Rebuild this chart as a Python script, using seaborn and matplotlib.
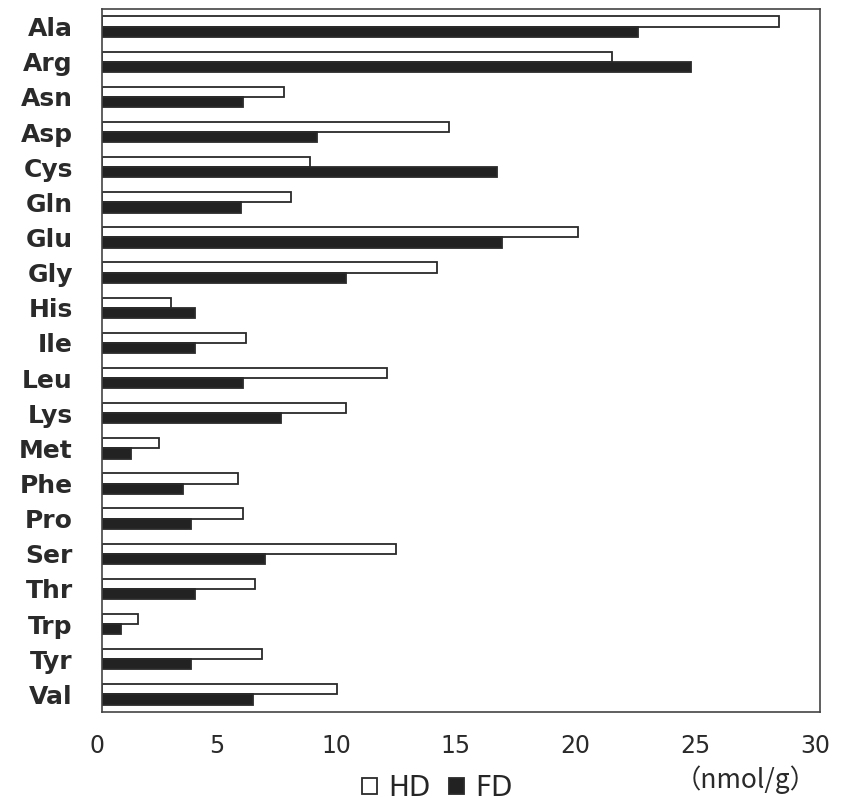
import matplotlib
matplotlib.use("Agg")
import matplotlib.pyplot as plt
import matplotlib.transforms as mtransforms
import seaborn as sns
import pandas as pd

amino_acids = ["Ala", "Arg", "Asn", "Asp", "Cys", "Gln", "Glu", "Gly", "His", "Ile",
               "Leu", "Lys", "Met", "Phe", "Pro", "Ser", "Thr", "Trp", "Tyr", "Val"]
hd_values = [28.3, 21.3, 7.6, 14.5, 8.7, 7.9, 19.9, 14.0, 2.9, 6.0,
             11.9, 10.2, 2.4, 5.7, 5.9, 12.3, 6.4, 1.5, 6.7, 9.8]
fd_values = [22.4, 24.6, 5.9, 9.0, 16.5, 5.8, 16.7, 10.2, 3.9, 3.9,
             5.9, 7.5, 1.2, 3.4, 3.7, 6.8, 3.9, 0.8, 3.7, 6.3]
series_names = ["HD", "FD"]
x_ticks = [0, 5, 10, 15, 20, 25, 30]
unit_label = "（nmol/g）"

df = pd.DataFrame({
    "aa": amino_acids * 2,
    "value": hd_values + fd_values,
    "series": [series_names[0]] * len(amino_acids) + [series_names[1]] * len(amino_acids),
})

sns.set_theme(style="white")
plt.rcParams["font.family"] = ["DejaVu Sans", "Noto Sans CJK JP"]

fig = plt.figure(figsize=(8.45, 8.01), dpi=100)
ax = fig.add_axes([102 / 845, 1 - 712 / 801, 718 / 845, 703 / 801])

sns.barplot(data=df, x="value", y="aa", hue="series", hue_order=series_names,
            order=amino_acids, orient="h", palette={"HD": "white", "FD": "#222222"},
            width=0.58, edgecolor="#2a2a2a", linewidth=1.3, ax=ax, saturation=1)

ax.set_xlim(0, 30)
ax.set_xticks(x_ticks)
ax.set_xticklabels([str(t) for t in x_ticks], fontsize=17, color="#2a2a2a")
ax.set_ylabel("")
ax.set_xlabel("")
for lab in ax.get_yticklabels():
    lab.set_fontsize(18)
    lab.set_fontweight("bold")
    lab.set_color("#2a2a2a")
ax.tick_params(axis="both", length=0)
ax.tick_params(axis="y", pad=21)
ax.tick_params(axis="x", pad=16)
shift = mtransforms.ScaledTranslation(-5 / 100, 0, fig.dpi_scale_trans)
for lab in ax.get_xticklabels():
    lab.set_transform(lab.get_transform() + shift)
for s in ax.spines.values():
    s.set_visible(True)
    s.set_color("#444444")
    s.set_linewidth(1.2)

sns.move_legend(ax, loc="center", bbox_to_anchor=(0.467, -0.108), ncol=2,
                frameon=False, title=None, fontsize=20, handlelength=0.55,
                handleheight=0.55, handletextpad=0.4, columnspacing=0.65,
                borderpad=0, borderaxespad=0)

ax.text(26.9, -0.0967, unit_label, transform=ax.get_xaxis_transform(),
        ha="center", va="center", fontsize=19, color="#2a2a2a",
        family=["Noto Sans CJK JP", "DejaVu Sans"])

fig.savefig("out.png", dpi=100)
